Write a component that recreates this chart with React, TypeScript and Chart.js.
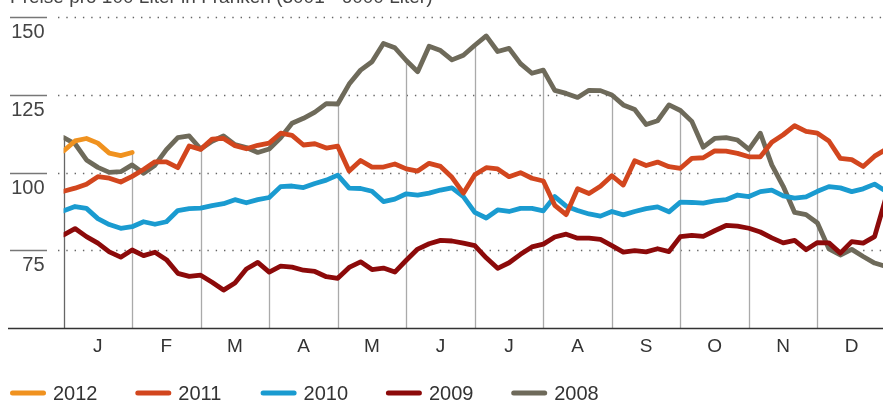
import React, { useEffect, useRef } from "react";
import { Chart, registerables } from "chart.js";

Chart.register(...registerables);

const TITLE = "Preise pro 100 Liter in Franken (3001 - 6000 Liter)";
const MONTH_LABELS = ["J", "F", "M", "A", "M", "J", "J", "A", "S", "O", "N", "D"];
const STEPS_PER_MONTH = 6;
const Y_MIN = 50;
const Y_MAX = 150;
const Y_STEP = 25;

const SERIES_LABELS = ["2012", "2011", "2010", "2009", "2008"];
const SERIES_COLORS = ["#F0921F", "#D2461E", "#1A9BD0", "#8C0A0A", "#6E6A5A"];

const DATA_2012 = [107, 110.2, 111, 109.5, 106.3, 105.5, 106.5];

const DATA_2011 = [
  94, 95, 96.3, 98.7, 98.2, 97, 98.8, 101, 103.5, 103.5, 101.6, 108.6,
  107.5, 110.8, 111, 108.7, 107.7, 108.8, 109.5, 112.7, 112, 108.9, 109.3, 107.9,
  108.5, 100.5, 103.9, 101.8, 101.8, 102.8, 101.2, 100.5, 103, 102, 98.5, 93.4,
  99.3, 101.6, 101.2, 98.7, 100, 98.2, 97.3, 89.5, 86.5, 94.8, 93.3, 95.6,
  99, 96, 103.8, 102.3, 103.4, 101.9, 101.4, 104.6, 104.8, 107, 106.9, 106.2,
  105.1, 105.1, 109.8, 112.2, 115.1, 113.3, 112.7, 110.2, 104.6, 104.2, 102, 105.3,
  107.5,
];

const DATA_2010 = [
  87.7, 89.1, 88.5, 85.2, 83.3, 82.1, 82.6, 84.2, 83.4, 84.2, 87.8, 88.4,
  88.6, 89.4, 90, 91.3, 90.3, 91.3, 92, 95.5, 95.7, 95.2, 96.5, 97.6,
  99.2, 95, 94.9, 94, 90.7, 91.5, 93.2, 92.8, 93.4, 94.4, 95.1, 92.3,
  87.2, 85.4, 88, 87.5, 88.5, 88.5, 87.7, 92.3, 89.2, 87.8, 86.7, 86,
  87.5, 86.4, 87.5, 88.4, 89, 87.4, 90.5, 90.4, 90.2, 90.9, 91.3, 92.8,
  92.3, 93.9, 94.4, 92.5, 91.8, 92.2, 94, 95.5, 95.1, 93.9, 94.8, 96.3,
  94,
];

const DATA_2009 = [
  80, 82, 79.4, 77.3, 74.5, 72.8, 75.1, 73.3, 74.4, 72, 67.6, 66.6,
  67, 64.7, 62.2, 64.5, 69, 71.1, 68, 69.9, 69.6, 68.6, 68.2, 66.5,
  66, 69.5, 71.3, 68.8, 69.3, 68, 71.8, 75.4, 77.1, 78.2, 78, 77.3,
  76.5, 72.6, 69.2, 71, 73.7, 76.1, 77, 79.3, 80.2, 78.9, 78.9, 78.5,
  76.5, 74.4, 74.9, 74.5, 75.5, 74.6, 79.4, 79.8, 79.5, 81.3, 83, 82.8,
  82.1, 80.9, 79, 77.4, 78.2, 75.2, 77.5, 77.4, 74.1, 77.8, 77.3, 79.4,
  92,
];

const DATA_2008 = [
  111.3, 109.3, 104.1, 101.7, 100.1, 100.3, 102.5, 99.8, 102.4, 107.4, 111.3, 111.8,
  107.6, 110.1, 111.8, 109, 108.1, 106.5, 107.6, 111.2, 115.9, 117.5, 119.5, 122.2,
  122.1, 128.5, 133, 135.7, 141.6, 140.2, 136.1, 132.5, 140.7, 139.3, 136.3, 137.8,
  141, 144, 139, 140, 135.1, 132, 133, 126.5, 125.5, 124.2, 126.5, 126.4,
  125, 121.8, 120.3, 115.5, 116.7, 121.8, 120, 116.5, 108.2, 111, 111.3, 110.5,
  107.5, 112.7, 102.5, 95.6, 87.2, 86.5, 83.8, 75.5, 73.5, 75.3, 73, 70.9,
  69.8,
];

const SERIES_VALUES = [DATA_2012, DATA_2011, DATA_2010, DATA_2009, DATA_2008];

const FONT = "'Liberation Sans', Arial, sans-serif";

const decorPlugin = {
  id: "decor",
  beforeDatasetsDraw(chart: any) {
    const { ctx, chartArea, scales } = chart;
    const x = scales.x;
    const y = scales.y;
    ctx.save();
    // horizontal grid: short solid line + dotted line + label below
    y.ticks.forEach((t: any) => {
      if (t.value === Y_MIN) return;
      const py = Math.round(y.getPixelForValue(t.value)) + 0.5;
      ctx.setLineDash([1.4, 6.9]);
      ctx.strokeStyle = "#666";
      ctx.lineWidth = 1.3;
      ctx.beginPath();
      ctx.moveTo(58, py);
      ctx.lineTo(chart.width, py);
      ctx.stroke();
      ctx.setLineDash([]);
      ctx.strokeStyle = "#777";
      ctx.lineWidth = 1.5;
      ctx.beginPath();
      ctx.moveTo(10, py);
      ctx.lineTo(47, py);
      ctx.stroke();
      ctx.fillStyle = "#444";
      ctx.font = `20px ${FONT}`;
      ctx.textAlign = "right";
      ctx.textBaseline = "middle";
      ctx.fillText(String(t.value), 44.5, py + 15);
    });
    // month boundary lines up to the highest series
    for (let m = 0; m < MONTH_LABELS.length; m++) {
      const idx = m * STEPS_PER_MONTH;
      let maxV = -Infinity;
      SERIES_VALUES.forEach((arr) => {
        if (idx < arr.length) maxV = Math.max(maxV, arr[idx]);
      });
      if (!isFinite(maxV)) continue;
      const px = Math.round(x.getPixelForValue(m)) + 0.5;
      const top = y.getPixelForValue(maxV);
      ctx.strokeStyle = m === 0 ? "#666" : "#aaa";
      ctx.lineWidth = 1.3;
      ctx.beginPath();
      ctx.moveTo(px, top);
      ctx.lineTo(px, chartArea.bottom);
      ctx.stroke();
    }
    // bottom axis line
    ctx.strokeStyle = "#333";
    ctx.lineWidth = 1.5;
    ctx.beginPath();
    ctx.moveTo(8, Math.round(chartArea.bottom) + 0.5);
    ctx.lineTo(chart.width, Math.round(chartArea.bottom) + 0.5);
    ctx.stroke();
    ctx.restore();
  },
  afterDraw(chart: any) {
    const { ctx } = chart;
    ctx.save();
    // title (cut off at the top, as in the source)
    ctx.font = `19px ${FONT}`;
    ctx.fillStyle = "#444";
    ctx.textAlign = "left";
    ctx.textBaseline = "alphabetic";
    ctx.fillText(TITLE, 10, 3);
    // legend
    const ly = 393;
    SERIES_LABELS.forEach((lab, i) => {
      const x0 = 10 + i * 125.3;
      ctx.strokeStyle = SERIES_COLORS[i];
      ctx.lineWidth = 5;
      ctx.lineCap = "round";
      ctx.beginPath();
      ctx.moveTo(x0 + 2.5, ly);
      ctx.lineTo(x0 + 33.5, ly);
      ctx.stroke();
      ctx.fillStyle = "#333";
      ctx.font = `20px ${FONT}`;
      ctx.textBaseline = "middle";
      ctx.fillText(lab, x0 + 43, ly + 1);
    });
    ctx.restore();
  },
};

export default function App() {
  const ref = useRef<HTMLCanvasElement | null>(null);
  useEffect(() => {
    if (!ref.current) return;
    const datasets = SERIES_LABELS.map((lab, i) => ({
      label: lab,
      data: SERIES_VALUES[i].map((v, j) => ({ x: j / STEPS_PER_MONTH, y: v })),
      borderColor: SERIES_COLORS[i],
      backgroundColor: SERIES_COLORS[i],
      borderWidth: 4.8,
      pointRadius: 0,
      tension: 0,
      borderJoinStyle: "round" as const,
      borderCapStyle: "round" as const,
      fill: false,
    }));
    const chart = new Chart(ref.current, {
      type: "line",
      data: { datasets },
      plugins: [decorPlugin],
      options: {
        animation: false,
        responsive: false,
        maintainAspectRatio: false,
        layout: { padding: { top: 17.3, left: 0, right: 0, bottom: 0 } },
        plugins: {
          legend: { display: false },
          tooltip: { enabled: false },
          title: { display: false },
        },
        scales: {
          x: {
            type: "linear",
            min: 0,
            max: MONTH_LABELS.length,
            grid: { display: false },
            border: { display: false },
            afterBuildTicks: (scale: any) => {
              scale.ticks = MONTH_LABELS.map((_, i) => ({ value: i + 0.5 }));
            },
            afterFit: (scale: any) => {
              scale.height = 74;
            },
            ticks: {
              autoSkip: false,
              maxRotation: 0,
              padding: -1,
              color: "#333",
              font: { family: FONT, size: 19 },
              callback: (v: any) => MONTH_LABELS[Math.floor(Number(v))] ?? "",
            },
          },
          y: {
            type: "linear",
            min: Y_MIN,
            max: Y_MAX,
            grid: { display: false },
            border: { display: false },
            afterFit: (scale: any) => {
              scale.width = 63.6;
            },
            ticks: {
              stepSize: Y_STEP,
              display: false,
            },
          },
        },
      },
    });
    return () => chart.destroy();
  }, []);
  return (
    <div style={{ position: "fixed", left: 0, top: 0, width: 886, height: 402, background: "#fff" }}>
      <canvas ref={ref} width={886} height={402} style={{ display: "block", width: 886, height: 402 }} />
    </div>
  );
}
